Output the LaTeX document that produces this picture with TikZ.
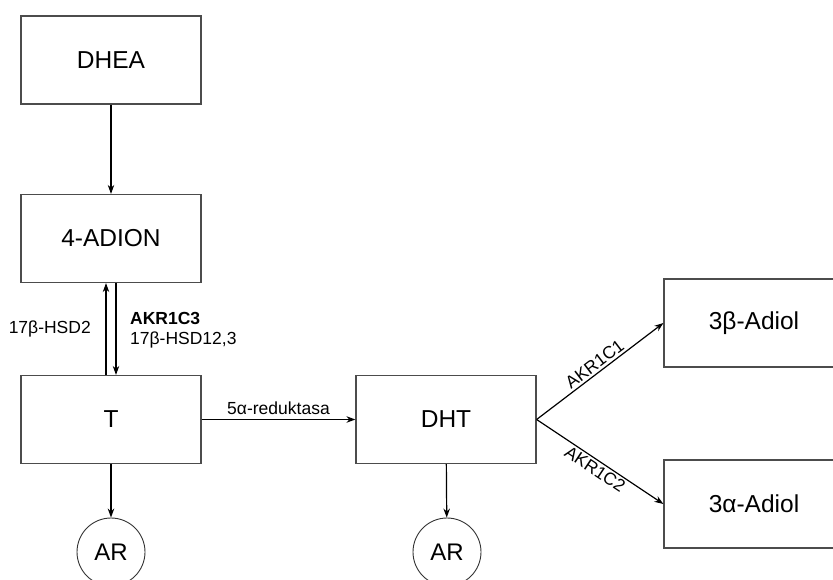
\documentclass[tikz,border=0pt]{standalone}
\usepackage{fontspec}
\setmainfont{Liberation Sans}
\usetikzlibrary{arrows.meta}
\begin{document}
\begin{tikzpicture}[x=1pt,y=-1pt,
  box/.style={draw=black!70,line width=1.2pt,minimum width=180pt,minimum height=88pt,inner sep=0pt,font=\fontsize{24.5}{28}\selectfont},
  receptor/.style={circle,draw=black!80,line width=0.9pt,minimum size=68pt,inner sep=0pt,font=\fontsize{24}{28}\selectfont},
  arr/.style={line width=1.2pt,-{Stealth[length=9pt,width=6.5pt]}},
  lbl/.style={font=\fontsize{17.5}{21}\selectfont,inner sep=1pt}]
\useasboundingbox (0,0) rectangle (833,579);
\node[box] (dhea) at (111,60) {DHEA};
\node[box] (adion) at (111,238.5) {4-ADION};
\node[box] (t) at (111,419.5) {T};
\node[box] (dht) at (446,419.5) {DHT};
\node[box] (b3) at (754,323) {3β-Adiol};
\node[box] (a3) at (754,504) {3α-Adiol};
\node[receptor] (ar1) at (111,552) {AR};
\node[receptor] (ar2) at (447,552) {AR};
\draw[arr] (dhea) -- (adion);
\draw[arr] ([xshift=-5pt]t.north) -- ([xshift=-5pt]adion.south);
\draw[arr] ([xshift=5pt]adion.south) -- ([xshift=5pt]t.north);
\node[lbl,anchor=east] (l1) at (92,329) {17β-HSD2};
\node[lbl,anchor=west,font=\fontsize{17.5}{21}\selectfont\bfseries] (l2) at (129,318) {AKR1C3};
\node[lbl,anchor=west] (l3) at (129,340) {17β-HSD12,3};
\draw[arr] (t) -- node[lbl,above=3pt] {5α-reduktasa} (dht);
\coordinate (br) at (dht.east);
\draw[arr] (br) -- node[lbl,sloped,above=1pt] {AKR1C1} (b3.west);
\draw[arr] (br) -- node[lbl,sloped,below=1pt] {AKR1C2} (a3.west);
\draw[arr] (t) -- (ar1);
\draw[arr] (dht) -- (ar2);
\end{tikzpicture}
\end{document}
